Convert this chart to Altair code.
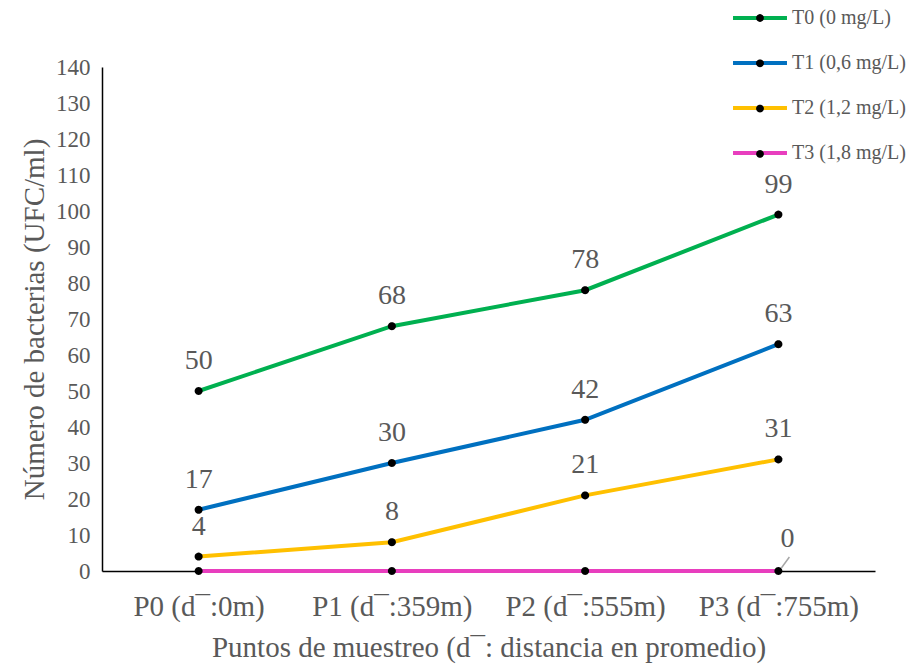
import math
import altair as alt
import pandas as pd

# Sampling points (x categories) and treatments (series)
puntos = ["P0 (d\u00AF:0m)", "P1 (d\u00AF:359m)", "P2  (d\u00AF:555m)", "P3  (d\u00AF:755m)"]
series = ["T0 (0 mg/L)", "T1 (0,6 mg/L)", "T2 (1,2 mg/L)", "T3 (1,8 mg/L)"]

# Bacteria counts (UFC/ml) per treatment
t0 = [50, 68, 78, 99]
t1 = [17, 30, 42, 63]
t2 = [4, 8, 21, 31]
t3 = [0, 0, 0, 0]

colores = ["#00B050", "#0070C0", "#FFC000", "#E83EBE"]
y_ticks = list(range(0, 141, 10))

rows = []
for serie, valores in zip(series, [t0, t1, t2, t3]):
    for punto, v in zip(puntos, valores):
        rows.append({"Punto": punto, "Serie": serie, "Tratamiento": serie, "Valor": v})
df = pd.DataFrame(rows)

FONT = "Liberation Serif"
GRIS = "#595959"

x_enc = alt.X("Punto:N", sort=puntos,
              scale=alt.Scale(type="point", padding=0.5),
              axis=alt.Axis(title="Puntos de muestreo (d\u00AF: distancia en promedio)",
                            labelAngle=0, labelPadding=21, labelFontSize=29,
                            titlePadding=12))
y_enc = alt.Y("Valor:Q",
              scale=alt.Scale(domain=[0, 140], nice=False),
              axis=alt.Axis(title="Número de bacterias (UFC/ml)", values=y_ticks,
                            labelOverlap=False, labelPadding=12, labelFontSize=23,
                            titlePadding=6))

base = alt.Chart(df).encode(x=x_enc, y=y_enc)

# Two legends share one layout: coloured line strokes, with black dots drawn over them
legend_common = dict(
    title=None, orient="none", legendX=645, legendY=-62, padding=0,
    symbolSize=466, symbolStrokeWidth=4,
    labelFont=FONT, labelFontSize=20, labelColor=GRIS,
    labelOffset=19,
)

lines = base.mark_line(strokeWidth=4).encode(
    color=alt.Color("Serie:N", sort=series,
                    scale=alt.Scale(domain=series, range=colores),
                    legend=alt.Legend(symbolType="M-2.5,0H2.5", rowPadding=22,
                                      **legend_common)),
    order=alt.Order("Punto:N"),
)

# Round marker as a polygon path (keeps its bounding box tight)
_r = 0.36
dot_path = "M" + "L".join(
    f"{_r * math.cos(2 * math.pi * k / 24):.4f},{_r * math.sin(2 * math.pi * k / 24):.4f}"
    for k in range(24)
) + "Z"

points = base.mark_point(filled=True, color="black", size=493, opacity=1).encode(
    shape=alt.Shape("Tratamiento:N", sort=series,
                    scale=alt.Scale(domain=series, range=[dot_path] * 4),
                    legend=alt.Legend(symbolFillColor="black", labelExpr="''",
                                      rowPadding=20.3, **legend_common)),
)

labels = base.transform_filter(
    alt.datum.Serie != series[3]
).mark_text(font=FONT, fontSize=28, color=GRIS, baseline="middle", dy=-30).encode(
    text=alt.Text("Valor:Q", format=".0f"),
)

zero_sel = (alt.datum.Serie == series[3]) & (alt.datum.Punto == puntos[3])
zero_label = base.transform_filter(zero_sel).mark_text(
    font=FONT, fontSize=28, color=GRIS, baseline="middle", dx=9, dy=-32
).encode(
    text=alt.Text("Valor:Q", format=".0f"),
)
leader = base.transform_filter(zero_sel).mark_rule(
    color="#A6A6A6", strokeWidth=1.5, xOffset=3, yOffset=-3, x2Offset=11, y2Offset=-14
).encode(
    x2=alt.X2("Punto:N"),
    y2=alt.Y2("Valor:Q"),
)

chart = alt.layer(lines, leader, points, labels, zero_label).resolve_legend(
    color="independent", shape="independent"
).properties(
    width=773, height=504,
    autosize=alt.AutoSizeParams(type="none"),
    padding={"left": 102, "top": 67, "right": 38, "bottom": 95},
    background="white",
).configure_view(stroke=None).configure_axis(
    domainColor="black", domainWidth=1.5, ticks=False, grid=False,
    labelFont=FONT, labelColor=GRIS, labelOverlap=False,
    titleFont=FONT, titleFontSize=29, titleColor=GRIS, titleFontWeight="normal",
)

chart.save("out.html", embed_options={"renderer": "svg", "actions": False})
